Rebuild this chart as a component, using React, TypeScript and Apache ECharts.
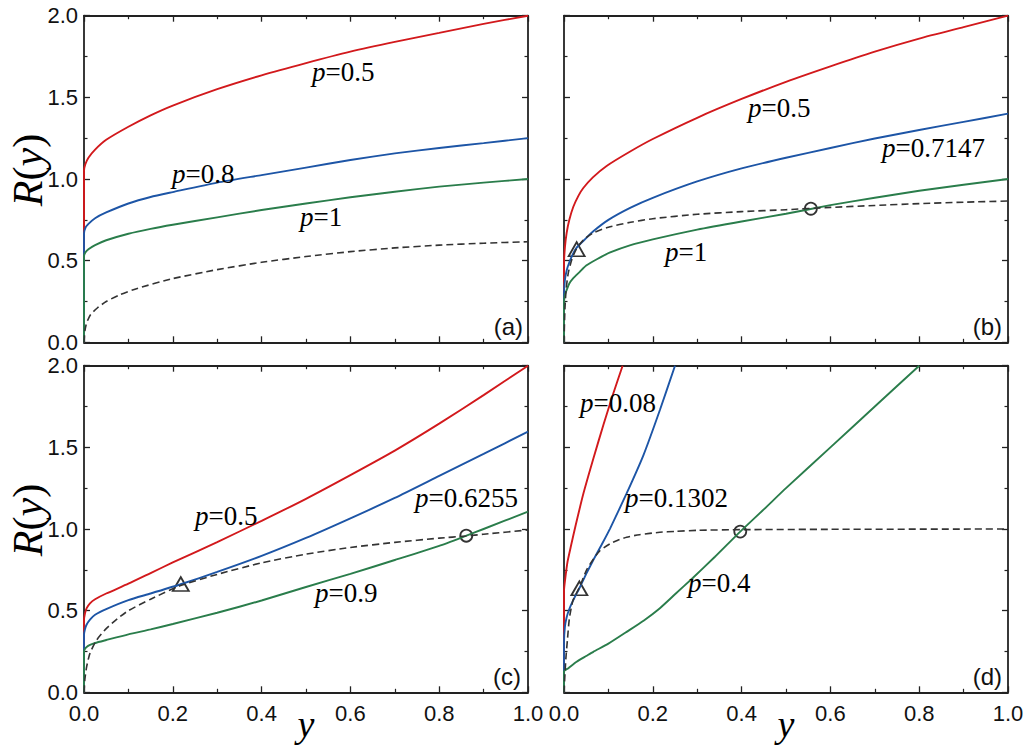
import React, { useEffect, useRef } from 'react';
import * as echarts from 'echarts';

// ---- data (x, R(y)) ----
// panel (a)
const aRed = [[0,0],[0,1.05],[0.003,1.09],[0.01,1.13],[0.025,1.18],[0.05,1.24],[0.1,1.32],[0.15,1.39],[0.2,1.45],[0.3,1.55],[0.4,1.635],[0.5,1.71],[0.6,1.78],[0.7,1.84],[0.8,1.895],[0.9,1.95],[1,2.0]];
const aBlue = [[0,0],[0,0.667],[0.003,0.7],[0.01,0.725],[0.025,0.76],[0.05,0.795],[0.1,0.85],[0.15,0.89],[0.2,0.92],[0.3,0.978],[0.4,1.024],[0.5,1.07],[0.6,1.116],[0.7,1.157],[0.8,1.19],[0.9,1.22],[1,1.25]];
const aGreen = [[0,0],[0,0.525],[0.003,0.55],[0.01,0.57],[0.025,0.595],[0.05,0.625],[0.1,0.665],[0.15,0.695],[0.2,0.72],[0.3,0.765],[0.4,0.81],[0.5,0.85],[0.6,0.888],[0.7,0.922],[0.8,0.953],[0.9,0.978],[1,1.0]];
const aDash = [[0,0],[0.002,0.07],[0.006,0.12],[0.015,0.17],[0.03,0.21],[0.05,0.25],[0.08,0.29],[0.12,0.33],[0.2,0.39],[0.3,0.445],[0.4,0.49],[0.5,0.525],[0.6,0.555],[0.7,0.578],[0.8,0.595],[0.9,0.607],[1,0.616]];

// panel (b)
const bRed = [[0,0],[0,0.48],[0.002,0.58],[0.006,0.67],[0.012,0.75],[0.021,0.83],[0.033,0.9],[0.0435,0.945],[0.065,1.01],[0.096,1.08],[0.15,1.17],[0.2,1.245],[0.3,1.375],[0.4,1.49],[0.5,1.595],[0.6,1.69],[0.7,1.78],[0.8,1.86],[0.9,1.93],[1,2.0]];
const bBlue = [[0,0],[0,0.3],[0.002,0.38],[0.006,0.44],[0.012,0.49],[0.02,0.54],[0.0285,0.58],[0.045,0.625],[0.066,0.68],[0.1,0.75],[0.15,0.825],[0.2,0.885],[0.3,0.985],[0.4,1.065],[0.5,1.13],[0.6,1.19],[0.7,1.248],[0.8,1.3],[0.9,1.35],[1,1.4]];
const bGreen = [[0,0],[0,0.24],[0.002,0.29],[0.006,0.32],[0.012,0.36],[0.02,0.39],[0.035,0.43],[0.05,0.47],[0.075,0.51],[0.104,0.55],[0.15,0.595],[0.2,0.63],[0.3,0.69],[0.4,0.74],[0.5,0.787],[0.6,0.84],[0.7,0.885],[0.8,0.928],[0.9,0.965],[1,1.0]];
const bDash = [[0,0],[0.002,0.2],[0.005,0.33],[0.01,0.43],[0.018,0.51],[0.0285,0.575],[0.045,0.63],[0.066,0.67],[0.1,0.705],[0.15,0.735],[0.2,0.757],[0.3,0.784],[0.4,0.8],[0.5,0.812],[0.6,0.826],[0.7,0.838],[0.8,0.849],[0.9,0.858],[1,0.865]];
const bTriangle = [[0.0285, 0.57]];
const bCircle = [[0.556, 0.818]];

// panel (c)
const cRed = [[0,0],[0,0.44],[0.002,0.48],[0.006,0.515],[0.0135,0.545],[0.025,0.57],[0.05,0.605],[0.1,0.665],[0.15,0.73],[0.2,0.795],[0.3,0.92],[0.4,1.05],[0.5,1.185],[0.6,1.33],[0.7,1.48],[0.8,1.645],[0.9,1.82],[1,2.0]];
const cBlue = [[0,0],[0,0.35],[0.002,0.385],[0.006,0.415],[0.0135,0.445],[0.025,0.475],[0.05,0.51],[0.1,0.565],[0.15,0.605],[0.216,0.66],[0.3,0.737],[0.4,0.835],[0.5,0.945],[0.6,1.065],[0.7,1.19],[0.8,1.325],[0.9,1.46],[1,1.596]];
const cGreen = [[0,0],[0,0.25],[0.002,0.265],[0.006,0.278],[0.0135,0.29],[0.025,0.302],[0.05,0.32],[0.1,0.355],[0.15,0.385],[0.2,0.418],[0.3,0.487],[0.4,0.562],[0.5,0.645],[0.6,0.725],[0.7,0.81],[0.8,0.897],[0.86,0.958],[0.9,1.0],[1,1.106]];
const cDash = [[0,0],[0.002,0.08],[0.006,0.157],[0.0135,0.24],[0.0285,0.32],[0.05,0.39],[0.075,0.45],[0.1,0.5],[0.15,0.57],[0.216,0.652],[0.3,0.722],[0.4,0.793],[0.5,0.846],[0.6,0.887],[0.7,0.918],[0.8,0.944],[0.86,0.957],[0.9,0.968],[1,0.994]];
const cTriangle = [[0.218, 0.663]];
const cCircle = [[0.861, 0.959]];

// panel (d)
const dRed = [[0,0],[0,0.62],[0.003,0.7],[0.008,0.8],[0.016,0.9],[0.026,1.02],[0.044,1.22],[0.066,1.43],[0.089,1.64],[0.111,1.83],[0.132,2.0]];
const dBlue = [[0,0],[0,0.3],[0.002,0.4],[0.006,0.46],[0.012,0.51],[0.02,0.56],[0.036,0.645],[0.05,0.725],[0.066,0.81],[0.085,0.905],[0.104,1.004],[0.141,1.218],[0.179,1.453],[0.216,1.729],[0.25,2.0]];
const dGreen = [[0,0],[0,0.127],[0.01,0.148],[0.0285,0.187],[0.05,0.222],[0.066,0.248],[0.1,0.298],[0.141,0.37],[0.18,0.44],[0.216,0.515],[0.25,0.6],[0.29,0.7],[0.34,0.83],[0.397,0.984],[0.45,1.12],[0.5,1.25],[0.6,1.5],[0.7,1.75],[0.8,2.0]];
const dDash = [[0,0],[0.004,0.2],[0.008,0.33],[0.012,0.45],[0.02,0.56],[0.036,0.65],[0.051,0.75],[0.066,0.815],[0.08,0.865],[0.104,0.91],[0.12,0.93],[0.141,0.95],[0.17,0.965],[0.216,0.98],[0.25,0.985],[0.3,0.992],[0.4,0.996],[0.6,0.998],[1,1.0]];
const dTriangle = [[0.0346, 0.637]];
const dCircle = [[0.397, 0.984]];

const panelLabels = ['(a)', '(b)', '(c)', '(d)'];
const curveLabels = [
  ['0.5', '0.8', '1'],
  ['0.5', '0.7147', '1'],
  ['0.5', '0.6255', '0.9'],
  ['0.08', '0.1302', '0.4'],
];

const RED = '#d2191c';
const BLUE = '#1d55a6';
const GREEN = '#2a7d4b';
const DASH = '#333333';
const SERIF = 'Liberation Serif';
const SANS = 'Liberation Sans';

const grids = [
  { left: 84, top: 15.7, width: 444, height: 326.6 },
  { left: 564, top: 15.7, width: 444, height: 326.6 },
  { left: 84, top: 365.7, width: 444, height: 326.6 },
  { left: 564, top: 365.7, width: 444, height: 326.6 },
];

// label positions (pixels) for curve labels: [x, yCenter]
const curveLabelPos = [
  [[312, 72], [172, 174], [300, 217]],
  [[748, 108], [882, 148], [665, 252]],
  [[195, 516], [415, 498], [315, 593]],
  [[580, 403], [625, 498], [688, 583]],
];

export default function App() {
  const ref = useRef<HTMLDivElement>(null);
  useEffect(() => {
    if (!ref.current) return;
    const chart = echarts.init(ref.current, null, { renderer: 'svg' });
    const frame = { show: true, onZero: false, lineStyle: { color: '#222', width: 1.8 } };
    const xAxes: any[] = [];
    const yAxes: any[] = [];
    grids.forEach((g, i) => {
      const showX = i >= 2;
      const showY = i % 2 === 0;
      const xBase = {
        type: 'value', gridIndex: i, min: 0, max: 1, interval: 0.2,
        axisLine: frame, splitLine: { show: false },
        axisTick: { show: true, inside: true, length: 6, lineStyle: { color: '#222', width: 1.3 } },
        minorTick: { show: true, splitNumber: 2, length: 3.5, lineStyle: { color: '#222', width: 1.2 } },
      };
      xAxes.push({
        ...xBase, position: 'bottom',
        axisLabel: { show: showX, margin: 10, fontSize: 22, fontFamily: SANS, color: '#111',
          formatter: (v: number) => v.toFixed(1) },
      });
      xAxes.push({ ...xBase, position: 'top', axisLabel: { show: false } });
      const yBase = {
        type: 'value', gridIndex: i, min: 0, max: 2, interval: 0.5,
        axisLine: frame, splitLine: { show: false },
        axisTick: { show: true, inside: true, length: 6, lineStyle: { color: '#222', width: 1.3 } },
        minorTick: { show: true, splitNumber: 2, length: 3.5, lineStyle: { color: '#222', width: 1.2 } },
      };
      yAxes.push({
        ...yBase, position: 'left',
        axisLabel: { show: showY, margin: 6, fontSize: 22, fontFamily: SANS, color: '#111',
          formatter: (v: number) => v.toFixed(1) },
      });
      yAxes.push({ ...yBase, position: 'right', axisLabel: { show: false } });
    });

    const panels = [
      { red: aRed, blue: aBlue, green: aGreen, dash: aDash, tri: null, circ: null },
      { red: bRed, blue: bBlue, green: bGreen, dash: bDash, tri: bTriangle, circ: bCircle },
      { red: cRed, blue: cBlue, green: cGreen, dash: cDash, tri: cTriangle, circ: cCircle },
      { red: dRed, blue: dBlue, green: dGreen, dash: dDash, tri: dTriangle, circ: dCircle },
    ];
    const series: any[] = [];
    panels.forEach((p, i) => {
      const common = { type: 'line', xAxisIndex: 2 * i, yAxisIndex: 2 * i, showSymbol: false, symbol: 'none', smooth: 0.2, clip: true };
      series.push({ ...common, data: p.red, lineStyle: { color: RED, width: 1.9 } });
      series.push({ ...common, data: p.blue, lineStyle: { color: BLUE, width: 1.9 } });
      series.push({ ...common, data: p.green, lineStyle: { color: GREEN, width: 1.9 } });
      series.push({ ...common, data: p.dash, lineStyle: { color: DASH, width: 1.6, type: [7, 4] } });
      if (p.tri) series.push({ type: 'scatter', xAxisIndex: 2 * i, yAxisIndex: 2 * i, data: p.tri, symbol: 'triangle', symbolSize: [16, 14],
        itemStyle: { color: 'rgba(0,0,0,0)', borderColor: '#000', borderWidth: 1.8 } });
      if (p.circ) series.push({ type: 'scatter', xAxisIndex: 2 * i, yAxisIndex: 2 * i, data: p.circ, symbol: 'circle', symbolSize: 12,
        itemStyle: { color: 'rgba(0,0,0,0)', borderColor: '#000', borderWidth: 1.8 } });
    });

    const graphic: any[] = [];
    const titleRich = {
      i: { fontFamily: SERIF, fontStyle: 'italic', fontSize: 42, fill: '#000' },
      n: { fontFamily: SERIF, fontSize: 42, fill: '#000' },
    };
    [170, 520].forEach((cy) => {
      graphic.push({ type: 'text', x: 28, y: cy, rotation: Math.PI / 2,
        style: { text: '{i|R}{n|(}{i|y}{n|)}', rich: titleRich, align: 'center', verticalAlign: 'middle' } });
    });
    [306, 786].forEach((cx) => {
      graphic.push({ type: 'text', x: cx, y: 724,
        style: { text: 'y', fontFamily: SERIF, fontStyle: 'italic', fontSize: 38, fill: '#000', align: 'center', verticalAlign: 'middle' } });
    });
    const labelRich = {
      i: { fontFamily: SERIF, fontStyle: 'italic', fontSize: 27, fill: '#000' },
      n: { fontFamily: SERIF, fontSize: 27, fill: '#000' },
    };
    curveLabels.forEach((labs, i) => {
      labs.forEach((v, j) => {
        const [x, y] = curveLabelPos[i][j];
        graphic.push({ type: 'text', x, y, z: 100,
          style: { text: `{i|p}{n|=${v}}`, rich: labelRich, align: 'left', verticalAlign: 'middle' } });
      });
    });
    const panelLabelPos = [[523, 326], [1002, 326], [521, 676], [1002, 676]];
    panelLabels.forEach((t, i) => {
      graphic.push({ type: 'text', x: panelLabelPos[i][0], y: panelLabelPos[i][1],
        style: { text: t, fontFamily: SANS, fontSize: 24, fill: '#111', align: 'right', verticalAlign: 'middle' } });
    });

    chart.setOption({
      animation: false,
      backgroundColor: '#fff',
      grid: grids,
      xAxis: xAxes,
      yAxis: yAxes,
      series,
      graphic,
    });
    return () => chart.dispose();
  }, []);
  return <div ref={ref} style={{ position: 'fixed', left: 0, top: 0, width: 1028, height: 747 }} />;
}
